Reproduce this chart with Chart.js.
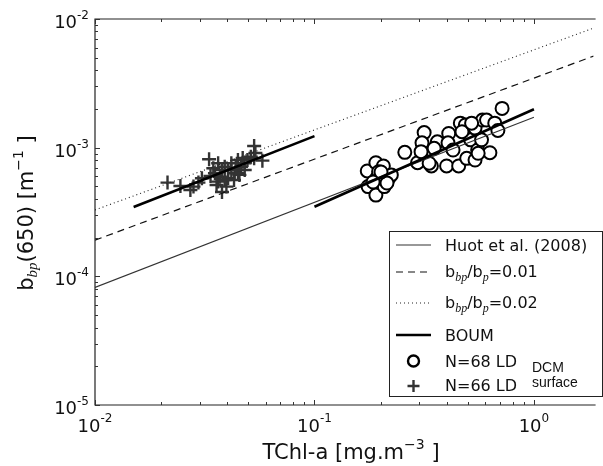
<!DOCTYPE html>
<html>
<head>
<meta charset="utf-8">
<script src="https://cdn.jsdelivr.net/npm/chart.js@4/dist/chart.umd.min.js"></script>
<style>
html,body{margin:0;padding:0;background:#fff;overflow:hidden;}
canvas{display:block;}
</style>
</head>
<body>
<canvas id="c" width="603" height="466"></canvas>
<script>
// ---- data ----
const dcmChl = [0.716,0.174,0.1905,0.206,0.1755,0.1905,0.192,0.208,0.218,0.224,0.196,0.258,0.295,0.316,0.309,0.306,0.341,0.363,0.351,0.400,0.409,0.406,0.428,0.454,0.462,0.487,0.494,0.515,0.539,0.539,0.554,0.577,0.583,0.608,0.630,0.663,0.685,0.470,0.520,0.333,0.557,0.185,0.214,0.201];
const dcmBbp = [2.02e-3,6.59e-4,7.64e-4,7.21e-4,4.98e-4,4.28e-4,5.78e-4,4.98e-4,5.78e-4,6.14e-4,6.50e-4,9.20e-4,7.64e-4,1.31e-3,1.09e-3,9.31e-4,7.21e-4,1.11e-3,9.89e-4,7.21e-4,1.29e-3,1.09e-3,9.59e-4,7.21e-4,1.55e-3,1.50e-3,8.26e-4,1.15e-3,1.42e-3,8.02e-4,9.59e-4,1.15e-3,1.64e-3,1.64e-3,9.14e-4,1.55e-3,1.36e-3,1.33e-3,1.55e-3,7.57e-4,9.04e-4,5.41e-4,5.31e-4,6.47e-4];
const surfChl = [0.0214,0.0245,0.0281,0.0296,0.0331,0.0352,0.0364,0.0397,0.0390,0.0418,0.0448,0.0463,0.0480,0.0513,0.0531,0.0579,0.0531,0.0495,0.0448,0.0418,0.0364,0.0346,0.0371,0.0404,0.0455,0.0358,0.0272,0.0307,0.0379,0.0481,0.0538,0.0430,0.0404,0.0433,0.0390,0.0336,0.0379,0.0438,0.0471];
const surfBbp = [5.35e-4,5.04e-4,4.98e-4,5.35e-4,8.13e-4,6.32e-4,5.45e-4,4.98e-4,7.11e-4,6.70e-4,6.32e-4,7.11e-4,7.57e-4,8.51e-4,1.03e-3,7.93e-4,8.26e-4,8.02e-4,8.02e-4,7.57e-4,7.57e-4,6.92e-4,5.94e-4,5.78e-4,6.14e-4,5.13e-4,4.69e-4,5.78e-4,4.52e-4,6.70e-4,9.10e-4,5.61e-4,6.70e-4,6.32e-4,5.61e-4,6.03e-4,6.70e-4,6.95e-4,8.32e-4];
const huotChl = [0.01, 1.0];
const huotBbp = [8.2e-5, 1.72e-3];
const ratio01Chl = [0.01, 1.87];
const ratio01Bbp = [1.91e-4, 5.15e-3];
const ratio02Chl = [0.01, 1.87];
const ratio02Bbp = [3.28e-4, 8.5e-3];
const boumSurfChl = [0.015, 0.1];
const boumSurfBbp = [3.46e-4, 1.23e-3];
const boumDcmChl = [0.1, 1.0];
const boumDcmBbp = [3.47e-4, 1.99e-3];
const xTickValues = [0.01, 0.1, 1];
const xTickExp = ['-2', '-1', '0'];
const yTickValues = [1e-5, 1e-4, 1e-3, 1e-2];
const yTickExp = ['-5', '-4', '-3', '-2'];
const xMin = 0.01, xMax = 1.87, yMin = 1e-5, yMax = 1e-2;

const pts = (xs, ys) => xs.map((x, i) => ({x: x, y: ys[i]}));

const SANS = "'DejaVu Sans'";

function drawSegments(ctx, segs, x, y) {
  let cx = x;
  for (const s of segs) {
    ctx.font = s[1];
    ctx.fillText(s[0], cx, y + (s[2] || 0));
    cx += ctx.measureText(s[0]).width;
  }
  return cx;
}
function segWidth(ctx, segs) {
  let w = 0;
  for (const s of segs) { ctx.font = s[1]; w += ctx.measureText(s[0]).width; }
  return w;
}

const framePlugin = {
  id: 'frame',
  afterDraw(chart) {
    const ctx = chart.ctx, a = chart.chartArea;
    const xs = chart.scales.x, ys = chart.scales.y;
    ctx.save();
    ctx.strokeStyle = '#222';
    ctx.lineWidth = 1.2;
    ctx.beginPath();
    ctx.moveTo(a.right + 2, a.top); ctx.lineTo(a.left, a.top); ctx.lineTo(a.left, a.bottom); ctx.lineTo(a.right + 2, a.bottom);
    ctx.stroke();
    ctx.lineWidth = 1;
    ctx.strokeStyle = '#333';
    ctx.beginPath();
    for (let e = -2; e <= 0; e++) {
      for (let m = 1; m <= 9; m++) {
        const v = m * Math.pow(10, e);
        if (v < xMin - 1e-12 || v > xMax) continue;
        const px = Math.round(xs.getPixelForValue(v)) + 0.5;
        const L = m === 1 ? 5 : 3;
        ctx.moveTo(px, a.bottom); ctx.lineTo(px, a.bottom - L);
        ctx.moveTo(px, a.top); ctx.lineTo(px, a.top + L);
      }
    }
    for (let e = -5; e <= -2; e++) {
      for (let m = 1; m <= 9; m++) {
        const v = m * Math.pow(10, e);
        if (v < yMin * 0.999 || v > yMax * 1.001) continue;
        const py = Math.round(ys.getPixelForValue(v)) + 0.5;
        const L = m === 1 ? 5 : 3;
        ctx.moveTo(a.left, py); ctx.lineTo(a.left + L, py);
      }
    }
    ctx.stroke();

    ctx.fillStyle = '#111';
    ctx.textBaseline = 'alphabetic';
    ctx.textAlign = 'left';
    const big = '18px ' + SANS, small = '12px ' + SANS;
    xTickValues.forEach((v, i) => {
      const segs = [['10', big, 0], [xTickExp[i], small, -10]];
      const w = segWidth(ctx, segs);
      const px = xs.getPixelForValue(v);
      drawSegments(ctx, segs, px - w / 2, a.bottom + 27);
    });
    yTickValues.forEach((v, i) => {
      const segs = [['10', big, 0], [yTickExp[i], small, -9]];
      const w = segWidth(ctx, segs);
      const py = ys.getPixelForValue(v);
      drawSegments(ctx, segs, a.left - 6 - w, py + 9);
    });

    const tf = '21px ' + SANS, sf = '14px ' + SANS, itf = "italic 15px 'Liberation Serif'";
    const xt = [['TChl-a [mg.m', tf, 0], ['\u22123', sf, -10], [' ]', tf, 0]];
    const xw = segWidth(ctx, xt);
    drawSegments(ctx, xt, 351 - xw / 2, 459);

    ctx.save();
    ctx.translate(33, 213);
    ctx.rotate(-Math.PI / 2);
    const yt = [['b', tf, 0], ['bp', itf, 4], ['(650) [m', tf, 0], ['\u22121', sf, -10], [' ]', tf, 0]];
    const yw = segWidth(ctx, yt);
    drawSegments(ctx, yt, -yw / 2, 0);
    ctx.restore();

    // legend
    const L0 = 389.5, T0 = 231.5, R0 = 602.5, B0 = 396.5;
    ctx.fillStyle = '#fff';
    ctx.fillRect(L0, T0, R0 - L0, B0 - T0);
    ctx.strokeStyle = '#222';
    ctx.lineWidth = 1;
    ctx.strokeRect(L0, T0, R0 - L0, B0 - T0);
    const lx0 = 396, lx1 = 431, tx = 445;
    function legLine(y, w, dash, color) {
      ctx.save();
      ctx.strokeStyle = color; ctx.lineWidth = w; ctx.setLineDash(dash);
      ctx.beginPath(); ctx.moveTo(lx0, y); ctx.lineTo(lx1, y); ctx.stroke();
      ctx.restore();
    }
    const lf = '16px ' + SANS, lsub = "italic 12px 'Liberation Serif'";
    ctx.fillStyle = '#111';
    legLine(245, 1.1, [], '#333');
    drawSegments(ctx, [['Huot et al. (2008)', lf, 0]], tx, 251);
    legLine(272, 1.2, [7, 5], '#111');
    drawSegments(ctx, [['b', lf, 0], ['bp', lsub, 4], ['/b', lf, 0], ['p', lsub, 4], ['=0.01', lf, 0]], tx, 277);
    legLine(303, 1.1, [1, 3], '#222');
    drawSegments(ctx, [['b', lf, 0], ['bp', lsub, 4], ['/b', lf, 0], ['p', lsub, 4], ['=0.02', lf, 0]], tx, 308);
    legLine(335, 2.6, [], '#000');
    drawSegments(ctx, [['BOUM', lf, 0]], tx, 341);
    ctx.beginPath(); ctx.arc(413.5, 361, 5.5, 0, Math.PI * 2);
    ctx.fillStyle = '#fff'; ctx.fill(); ctx.strokeStyle = '#000'; ctx.lineWidth = 2.4; ctx.stroke();
    ctx.fillStyle = '#111';
    drawSegments(ctx, [['N=68 LD', lf, 0]], tx, 367);
    ctx.beginPath(); ctx.moveTo(407.5, 386); ctx.lineTo(419.5, 386); ctx.moveTo(413.5, 380); ctx.lineTo(413.5, 392);
    ctx.strokeStyle = '#333'; ctx.lineWidth = 2.4; ctx.stroke();
    drawSegments(ctx, [['N=66 LD', lf, 0]], tx, 391);
    const nf = "14px 'Liberation Sans'";
    drawSegments(ctx, [['DCM', nf, 0]], 532, 372);
    drawSegments(ctx, [['surface', nf, 0]], 532, 387);
    ctx.restore();
  }
};

new Chart(document.getElementById('c'), {
  type: 'scatter',
  data: {
    datasets: [
      { label: 'BOUM surface', type: 'line', data: pts(boumSurfChl, boumSurfBbp), borderColor: '#000', borderWidth: 2.6, pointRadius: 0, showLine: true, fill: false, order: 0 },
      { label: 'BOUM DCM', type: 'line', data: pts(boumDcmChl, boumDcmBbp), borderColor: '#000', borderWidth: 2.6, pointRadius: 0, showLine: true, fill: false, order: 0 },
      { label: 'Huot et al. (2008)', type: 'line', data: pts(huotChl, huotBbp), borderColor: '#333', borderWidth: 1.1, pointRadius: 0, showLine: true, fill: false, order: 0 },
      { label: 'bbp/bp=0.01', type: 'line', data: pts(ratio01Chl, ratio01Bbp), borderColor: '#111', borderWidth: 1.2, borderDash: [7, 5], pointRadius: 0, showLine: true, fill: false, order: 0 },
      { label: 'bbp/bp=0.02', type: 'line', data: pts(ratio02Chl, ratio02Bbp), borderColor: '#222', borderWidth: 1.1, borderDash: [1, 3], pointRadius: 0, showLine: true, fill: false, order: 0 },
      { label: 'N=66 LD surface', data: pts(surfChl, surfBbp), pointStyle: 'cross', pointRadius: 7, borderColor: '#333', borderWidth: 2.4, backgroundColor: '#333', order: 1 },
      { label: 'N=68 LD DCM', data: pts(dcmChl, dcmBbp), pointStyle: 'circle', pointRadius: 6.5, borderColor: '#000', borderWidth: 2, backgroundColor: '#fff', order: 1 }
    ]
  },
  options: {
    responsive: false,
    animation: false,
    devicePixelRatio: 1,
    layout: { padding: { left: 95, right: 0, top: 19, bottom: 61 } },
    plugins: { legend: { display: false }, tooltip: { enabled: false } },
    scales: {
      x: { type: 'logarithmic', min: xMin, max: xMax, display: false },
      y: { type: 'logarithmic', min: yMin, max: yMax, display: false }
    }
  },
  plugins: [framePlugin]
});
</script>
</body>
</html>
